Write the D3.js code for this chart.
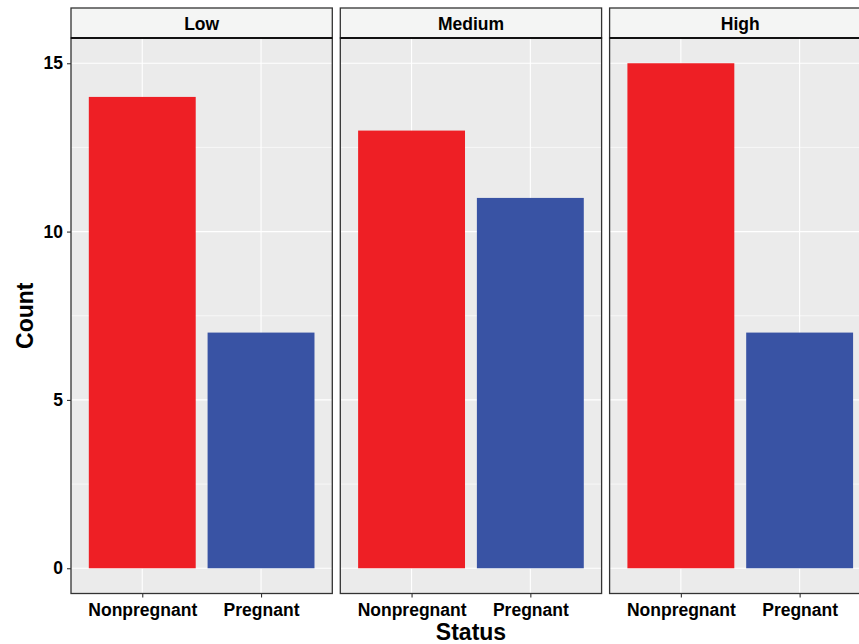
<!DOCTYPE html>
<html><head><meta charset="utf-8">
<script src="https://cdn.jsdelivr.net/npm/d3@7"></script>
<style>body{margin:0;background:#fff}svg{display:block}text{font-family:"Liberation Sans",Arial,Helvetica,sans-serif;font-weight:bold;fill:#000}</style>
</head><body>
<script>
const facets = ["Low", "Medium", "High"];
const statuses = ["Nonpregnant", "Pregnant"];
const nonpregnant = [14, 13, 15];
const pregnant = [7, 11, 7];
const yTicks = [0, 5, 10, 15];
const yMinor = [2.5, 7.5, 12.5];
const colors = {Nonpregnant: "#EE1F25", Pregnant: "#3953A4"};

const W = 859, H = 644;
const svg = d3.select("body").append("svg").attr("width", W).attr("height", H);

const panelLeft = 71, panelW = 261.3, gap = 8;
const stripTop = 8, stripBot = 38, panelBot = 593.5;

const y = d3.scaleLinear().domain([-0.75, 15.75]).range([panelBot, stripBot]);

const data = facets.map((f, i) => ({facet: f, values: [
  {status: "Nonpregnant", v: nonpregnant[i]},
  {status: "Pregnant", v: pregnant[i]}
]}));

data.forEach((d, i) => {
  const x0 = panelLeft + i * (panelW + gap);
  const g = svg.append("g");
  // x scale: categories with 0.6 expansion
  const xc = d3.scaleLinear().domain([0.4, 2.6]).range([x0, x0 + panelW]);
  const band = d3.scaleBand().domain(statuses).range([xc(0.55), xc(2.45)]).paddingInner(0.1/1.0).paddingOuter(0);
  // background
  g.append("rect").attr("x", x0).attr("y", stripBot).attr("width", panelW).attr("height", panelBot - stripBot).attr("fill", "#EBEBEB");
  // minor grid
  yMinor.forEach(t => g.append("line").attr("x1", x0).attr("x2", x0 + panelW).attr("y1", y(t)).attr("y2", y(t)).attr("stroke", "#fff").attr("stroke-width", 0.6));
  // major grid
  yTicks.forEach(t => g.append("line").attr("x1", x0).attr("x2", x0 + panelW).attr("y1", y(t)).attr("y2", y(t)).attr("stroke", "#fff").attr("stroke-width", 1.1));
  statuses.forEach((s, k) => g.append("line").attr("x1", xc(k + 1)).attr("x2", xc(k + 1)).attr("y1", stripBot).attr("y2", panelBot).attr("stroke", "#fff").attr("stroke-width", 1.1));
  // bars
  g.selectAll("rect.bar").data(d.values).join("rect").attr("class", "bar")
    .attr("x", v => xc(statuses.indexOf(v.status) + 1) - 0.45 * (xc(1) - xc(0)))
    .attr("width", 0.9 * (xc(1) - xc(0)))
    .attr("y", v => y(v.v)).attr("height", v => y(0) - y(v.v))
    .attr("fill", v => colors[v.status]);
  // panel border
  g.append("rect").attr("x", x0).attr("y", stripBot).attr("width", panelW).attr("height", panelBot - stripBot).attr("fill", "none").attr("stroke", "#333").attr("stroke-width", 1.3);
  // strip
  g.append("rect").attr("x", x0).attr("y", stripTop).attr("width", panelW).attr("height", stripBot - stripTop).attr("fill", "#F4F5F4").attr("stroke", "#333").attr("stroke-width", 1.3);
  g.append("line").attr("x1", x0).attr("x2", x0 + panelW).attr("y1", stripBot).attr("y2", stripBot).attr("stroke", "#111").attr("stroke-width", 1.8);
  g.append("text").attr("x", x0 + panelW / 2).attr("y", 30).attr("text-anchor", "middle").attr("font-size", 17.5).text(d.facet);
  // x axis
  const xa = d3.axisBottom(d3.scalePoint().domain(statuses).range([xc(1), xc(2)])).tickSize(4).tickPadding(6);
  const ax = g.append("g").attr("transform", `translate(0,${panelBot})`).call(xa);
  ax.select(".domain").remove();
  ax.selectAll(".tick line").attr("stroke", "#333").attr("stroke-width", 1.1);
  ax.selectAll(".tick text").attr("font-size", 17.5).attr("font-family", null).attr("fill", "#000").attr("dy", null).attr("y", 22);
});

// y axis
const ya = d3.axisLeft(y).tickValues(yTicks).tickSize(4).tickPadding(4);
const ay = svg.append("g").attr("transform", `translate(${panelLeft},0)`).call(ya);
ay.select(".domain").remove();
ay.selectAll(".tick line").attr("stroke", "#333").attr("stroke-width", 1.1);
ay.selectAll(".tick text").attr("font-size", 17.5).attr("font-family", null).attr("fill", "#000");

// titles
svg.append("text").attr("x", 471).attr("y", 640).attr("text-anchor", "middle").attr("font-size", 23).text("Status");
svg.append("text").attr("transform", `translate(33,${(stripBot + panelBot) / 2}) rotate(-90)`).attr("text-anchor", "middle").attr("font-size", 23).text("Count");
</script>
</body></html>
